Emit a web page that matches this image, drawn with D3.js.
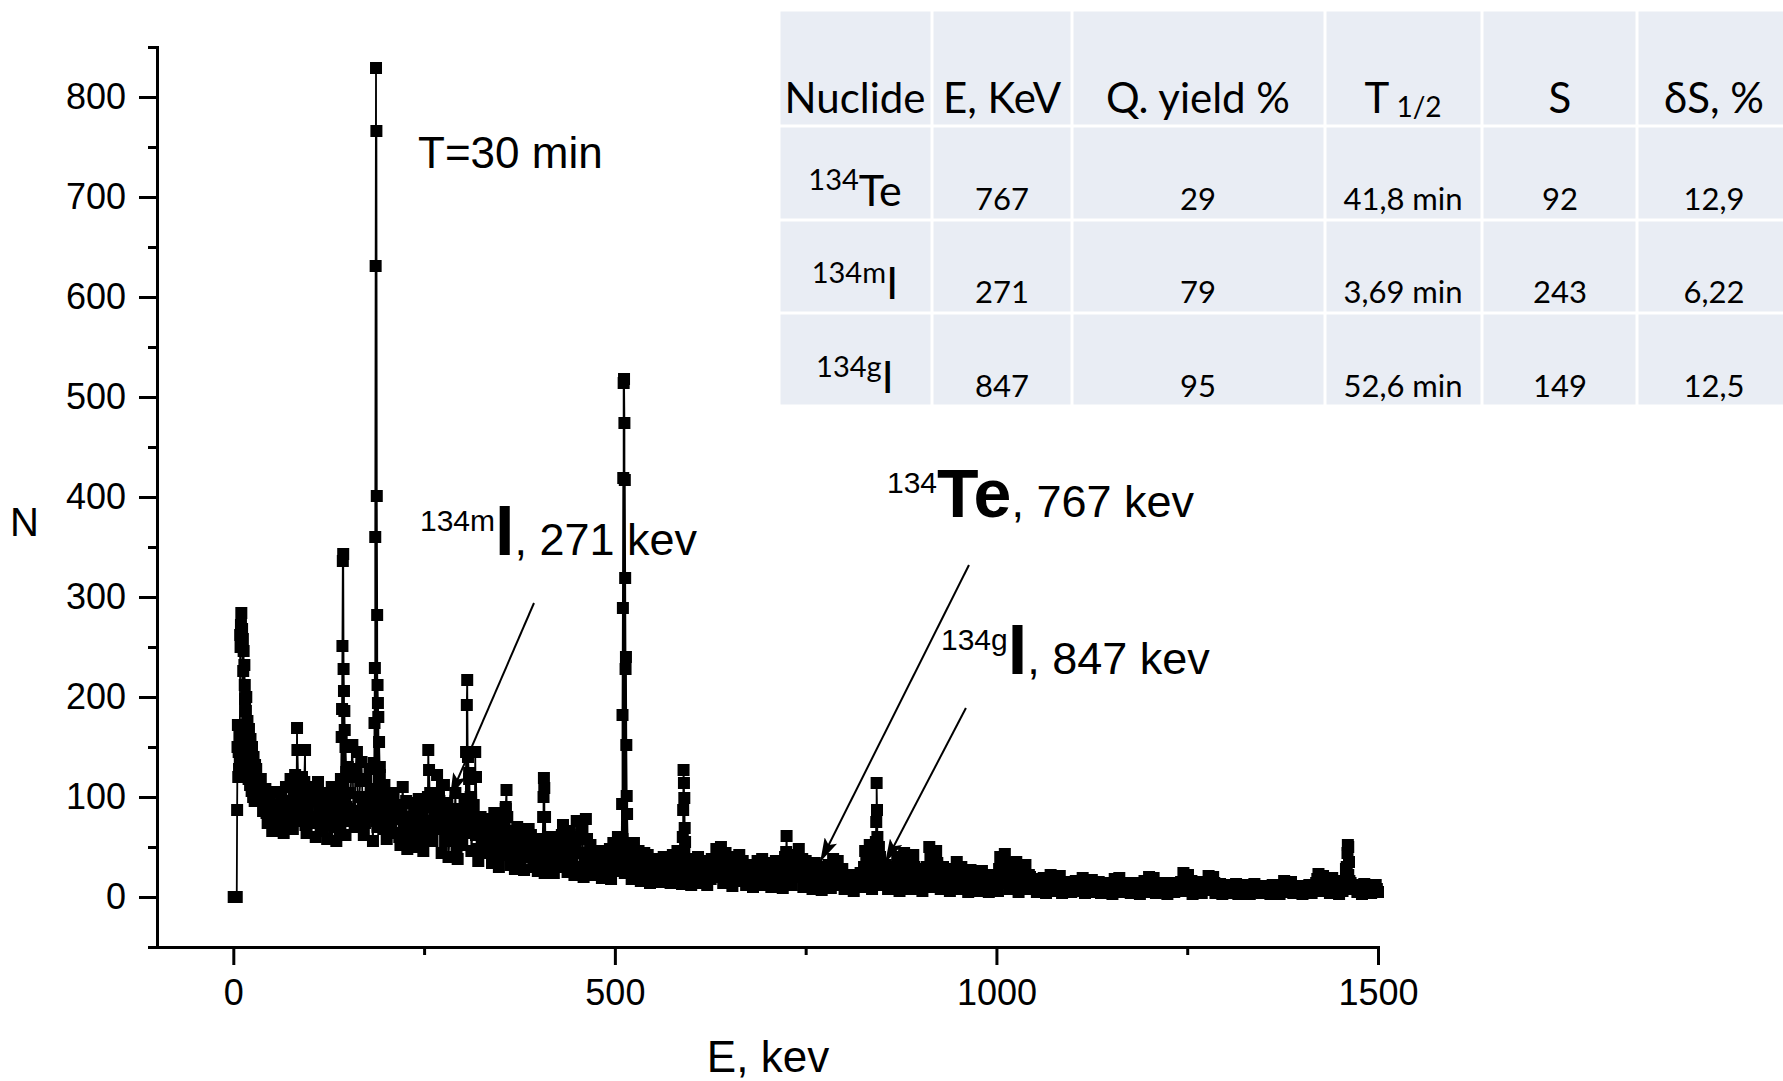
<!DOCTYPE html>
<html>
<head>
<meta charset="utf-8">
<script src="https://cdn.jsdelivr.net/npm/d3@7"></script>
<style>
  html,body{margin:0;padding:0;background:#fff;}
  svg{display:block;}
</style>
</head>
<body>
<div id="chart"></div>
<script>
// ---- axis ticks ----
const yTicks=[0,100,200,300,400,500,600,700,800];
const yMinor=[-50,50,150,250,350,450,550,650,750,850];
const xTicks=[0,500,1000,1500];
const xMinor=[250,750,1250];

// ---- spectrum: low-energy edge, continuum (two interleaved 3 keV samplings), peak channels ----
const lowEnergy=[[0.5,0],[4.5,0],[5,87],[5.5,150],[6,172],[6.5,120],[7,145],[7.5,128],[8,162],[8.5,135],
  [9,262],[9.5,250],[10,272],[10.5,284],[11,264],[11.5,268],[12,150],[12.5,258],[13,226],[13.5,246],
  [14,135],[14.5,232],[15,212],[15.5,198],[16,128],[16.5,186],[17,200],[18,122],[18.5,176],[19,160],
  [20,118],[20.5,168],[21,145],[22,112],[22.5,158],[23,132],[24,106],[24.5,150],[25,124],[26,100],
  [26.5,140],[27,116],[28,96],[28.5,132],[29,110]];
const bgStep=3;
const bgStartA=30;
const backgroundA=[
  128,98,118,86,108,74,100,66,92,105,70,98,64,110,80,118,68,122,92,76,
  120,84,64,110,74,96,60,115,82,66,104,58,92,110,70,56,98,118,76,62,
  130,88,152,70,145,100,135,62,118,80,108,56,96,70,122,84,112,58,98,72,
  104,64,88,52,110,76,48,94,62,82,50,98,70,46,90,66,104,56,82,122,
  96,44,112,68,40,86,58,104,38,76,52,98,64,118,46,92,62,36,80,54,
  78,44,64,34,84,56,30,72,48,88,66,32,58,28,70,44,62,27,52,68,
  62,30,46,26,58,40,24,54,36,60,24,44,56,30,72,48,25,66,38,22,
  76,44,62,20,78,34,52,22,42,30,46,19,38,28,44,18,54,30,60,36,
  58,24,50,40,18,54,32,46,16,38,26,42,14,34,22,38,15,30,40,20,
  36,14,42,24,46,30,13,44,28,38,12,34,22,40,14,30,36,12,26,38,
  20,48,30,50,14,44,26,40,11,36,22,42,16,30,12,26,32,10,24,36,
  18,38,12,28,34,10,22,36,14,30,9,40,24,36,12,42,20,48,30,10,
  36,14,28,8,34,20,30,7,26,16,32,9,38,24,36,12,28,8,20,14,
  22,6,18,10,24,14,46,20,52,8,40,30,50,12,26,32,8,22,30,14,
  40,6,28,44,18,36,8,42,24,12,28,6,22,30,50,10,38,46,20,8,
  30,14,24,6,28,18,35,8,30,22,12,5,27,14,24,6,20,26,10,18,
  5,22,12,18,6,40,16,43,24,8,30,12,35,5,28,18,32,8,20,12,
  18,5,14,8,19,4,12,22,6,16,10,21,4,14,8,15,5,12,16,6,
  12,19,4,14,8,17,5,11,15,4,10,14,6,12,3,18,9,19,5,13,
  8,14,4,11,7,14,3,10,16,5,20,12,19,4,9,14,6,12,3,10,
  14,5,12,8,15,24,6,22,10,3,14,8,15,4,11,7,21,12,20,4,
  9,13,3,10,6,12,4,9,13,3,8,11,5,12,3,7,13,5,10,4,
  11,6,9,3,12,7,10,3,8,16,5,12,15,4,9,6,11,3,10,6,
  12,4,9,14,23,6,21,10,18,4,19,8,15,3,10,16,28,22,14,8,
  12,5,10,3,13,7,11,4,9,12,5];
const bgStartB=31.5;
const backgroundB=[
  111,106,101,96,84,91,78,86,82,74,88,79,92,74,96,84,100,86,104,110,
  96,72,88,100,80,104,76,92,98,74,86,80,102,72,84,94,66,86,100,90,
  104,120,78,128,86,116,92,74,100,128,84,94,76,108,90,68,100,80,88,64,
  78,92,60,84,66,96,58,80,72,88,60,76,84,56,76,96,74,90,68,104,
  72,84,56,94,62,78,70,48,88,60,84,72,90,80,68,74,48,70,60,66,
  60,52,74,46,70,40,62,54,76,42,50,64,40,48,56,36,50,40,58,44,
  48,38,52,34,50,46,32,44,50,30,38,48,40,62,36,58,44,52,30,50,
  60,30,70,40,58,28,36,46,26,36,32,40,24,36,48,38,26,42,48,28,
  36,44,30,28,46,24,40,22,30,44,20,32,28,26,30,20,36,26,32,28,
  28,32,18,36,20,38,24,18,36,20,30,26,18,28,34,22,20,30,18,28,
  34,22,40,24,30,20,34,18,28,16,30,22,36,20,24,18,16,30,20,14,
  26,20,32,16,24,28,18,26,20,22,30,16,30,18,28,24,36,22,38,20,
  22,24,12,20,14,26,16,18,12,24,20,14,30,16,20,28,14,18,12,20,
  12,14,22,16,10,30,36,28,44,16,34,22,40,18,16,20,24,14,10,22,
  20,16,34,26,30,14,24,30,12,20,16,14,18,12,40,26,28,34,14,22,
  20,10,16,18,12,24,14,22,16,10,18,14,20,10,14,18,14,12,16,10,
  14,10,16,12,28,32,24,14,34,18,20,26,14,20,24,12,16,22,14,8,
  10,12,6,14,10,8,16,12,10,12,14,8,10,12,6,10,12,8,10,12,
  8,10,12,6,11,10,8,13,7,9,12,8,10,6,12,13,8,12,9,10,
  11,7,9,8,12,6,10,8,12,14,16,8,12,10,6,9,11,7,8,6,
  9,10,6,12,10,18,14,12,16,8,10,12,6,9,8,13,16,8,14,10,
  6,8,9,5,10,8,6,11,7,6,10,7,9,6,10,9,7,8,6,9,
  8,9,6,7,9,5,8,6,12,10,9,7,10,8,6,9,7,8,6,8,
  8,7,11,18,12,16,14,8,12,10,14,12,9,7,6,12,20,16,10,11,
  8,9,7,10,6,9,8,7,10,8];
const peaks=[
  [83,110],[83.5,169],[84,147],[85,115],[93,115],[94,147],[95,105],
  [141,110],[142,160],[142.5,188],[143,251],[143.5,336],[144,343],[144.5,228],[145,206],[145.5,186],[146,167],[147,150],[148,125],
  [184,134],[185,174],[185.5,229],[186,360],[186.5,631],[187,829],[187.5,766],[188,401],[188.5,282],[189,212],[189.5,194],[190,180],[191,155],[192,130],
  [255,100],[255.5,147],[256.5,127],[257.5,95],
  [305,145],[306,192],[306.5,217],[307.5,140],[309,124],[311,100],[317,145],[318,120],
  [357,90],[358,107],[359,80],
  [406,80],[406.5,100],[407,119],[407.5,109],[408.5,80],
  [509,60],[509.5,93],[510,182],[510.5,289],[511,419],[511.5,514],[512,518],[512.5,474],[513,417],[513.5,319],[514,228],[514.5,240],[515,152],[515.5,101],[516,83],
  [589,60],[589.5,87],[590,127],[590.5,114],[591,99],[591.5,69],[592,55],
  [724.5,45],[725,61],[726,40],
  [842,55],[842.5,75],[843,114],[843.5,87],[844,60],
  [1459,30],[1460,44],[1460.5,52],[1461,50],[1462,35]];

// ---- table ----
const headers=[["Nuclide",""],["E, KeV",""],["Q. yield %",""],["T"," 1/2"],["S",""],["δS, %",""]];
const nuclideMass=["134","134m","134g"];
const nuclideEl=["Te","I","I"];
const energyKeV=["767","271","847"];
const qYield=["29","79","95"];
const halfLife=["41,8 min","3,69 min","52,6 min"];
const sValue=["92","243","149"];
const dS=["12,9","6,22","12,5"];

// ---- callouts ----
const calloutMass=["134m","134","134g"];
const calloutEl=["I","Te","I"];
const calloutText=[", 271 kev",", 767 kev",", 847 kev"];

const W=1783,H=1081;
const sans="'Liberation Sans', Arial, sans-serif";
const svg=d3.select("#chart").append("svg").attr("width",W).attr("height",H).style("background","#fff");
const x=d3.scaleLinear().domain([-100,1500]).range([157,1378]);
const y=d3.scaleLinear().domain([-50,850]).range([947,47]);

// table (top right)
const colX=[779,932,1072,1325,1482,1637,1790], rowY=[10,126,220,313,406];
const colMid=[855,1002,1198,1403,1560,1714];
const tbl=svg.append("g").attr("font-family","Lato, 'Open Sans', sans-serif").attr("fill","#000");
for(let r=0;r<4;r++) for(let c=0;c<6;c++){
  tbl.append("rect").attr("x",colX[c]+1.5).attr("y",rowY[r]+1.5)
    .attr("width",colX[c+1]-colX[c]-3).attr("height",rowY[r+1]-rowY[r]-3).attr("fill","#e9edf4");
}
headers.forEach((h,c)=>{
  const t=tbl.append("text").attr("x",colMid[c]).attr("y",113).attr("text-anchor","middle").attr("font-size",42);
  t.append("tspan").text(h[0]);
  if(h[1]) t.append("tspan").attr("font-size",28).attr("dy",4).text(h[1]);
});
const rowBase=[210,303,397];
const cols=[energyKeV,qYield,halfLife,sValue,dS];
rowBase.forEach((b,r)=>{
  const t=tbl.append("text").attr("x",colMid[0]).attr("y",b-4).attr("text-anchor","middle");
  t.append("tspan").attr("font-size",29).attr("dy",-16).text(nuclideMass[r]);
  t.append("tspan").attr("font-size",r===0?43:44).attr("dy",16).text(nuclideEl[r]);
  cols.forEach((arr,c)=>{
    tbl.append("text").attr("x",colMid[c+1]).attr("y",b).attr("text-anchor","middle")
      .attr("font-size",31).text(arr[r]);
  });
});

// spectrum
const spectrum=lowEnergy.concat(
    backgroundA.map((n,i)=>[bgStartA+i*bgStep,n]),
    backgroundB.map((n,i)=>[bgStartB+i*bgStep,n]),
    peaks).sort((a,b)=>a[0]-b[0]);
const plot=svg.append("g");
plot.append("path").datum(spectrum)
  .attr("d",d3.line().x(d=>x(d[0])).y(d=>y(d[1])))
  .attr("fill","none").attr("stroke","#000").attr("stroke-width",1.8);
const ms=12;
plot.selectAll("rect.pt").data(spectrum).join("rect").attr("class","pt")
  .attr("x",d=>x(d[0])-ms/2).attr("y",d=>y(d[1])-ms/2).attr("width",ms).attr("height",ms).attr("fill","#000");

// axes
function styleAxis(s,size){
  s.selectAll("line").attr("stroke","#000").attr("stroke-width",3);
  s.selectAll("path.domain").attr("stroke","#000").attr("stroke-width",3).attr("stroke-linecap","square");
  s.selectAll("text").attr("font-family",sans).attr("font-size",size).attr("fill","#000");
}
svg.append("g").attr("transform",`translate(${x(-100)},0)`)
  .call(d3.axisLeft(y).tickValues(yMinor).tickSize(9).tickSizeOuter(0).tickFormat(""))
  .call(s=>s.select(".domain").remove()).call(s=>styleAxis(s,36));
svg.append("g").attr("transform",`translate(0,${y(-50)})`)
  .call(d3.axisBottom(x).tickValues(xMinor).tickSize(8).tickSizeOuter(0).tickFormat(""))
  .call(s=>s.select(".domain").remove()).call(s=>styleAxis(s,36));
svg.append("g").attr("transform",`translate(${x(-100)},0)`)
  .call(d3.axisLeft(y).tickValues(yTicks).tickSize(18).tickSizeOuter(0).tickPadding(13).tickFormat(d3.format("d")))
  .call(s=>styleAxis(s,36));
svg.append("g").attr("transform",`translate(0,${y(-50)})`)
  .call(d3.axisBottom(x).tickValues(xTicks).tickSize(18).tickSizeOuter(0).tickPadding(14).tickFormat(d3.format("d")))
  .call(s=>styleAxis(s,36));

svg.append("text").attr("x",10).attr("y",536).attr("font-family",sans).attr("font-size",40).text("N");
svg.append("text").attr("x",768).attr("y",1072).attr("text-anchor","middle").attr("font-family",sans).attr("font-size",44).text("E, kev");
svg.append("text").attr("x",418).attr("y",168).attr("font-family",sans).attr("font-size",44).text("T=30 min");

// callouts with arrows
svg.append("defs").append("marker").attr("id","arr").attr("viewBox","0 0 24 14")
  .attr("refX",24).attr("refY",7).attr("markerWidth",24).attr("markerHeight",14)
  .attr("markerUnits","userSpaceOnUse").attr("orient","auto")
  .append("path").attr("d","M0,0L24,7L0,14L5,7Z").attr("fill","#000");
const arrowFrom=[[394,294],[964,332],[960,189]], arrowTo=[[284,100],[769,35],[854,34]];
arrowFrom.forEach((f,i)=>{
  svg.append("line").attr("x1",x(f[0])).attr("y1",y(f[1])).attr("x2",x(arrowTo[i][0])).attr("y2",y(arrowTo[i][1]))
    .attr("stroke","#000").attr("stroke-width",2).attr("marker-end","url(#arr)");
});
const calloutPos=[[420,555],[887,517],[941,674]], elSize=[70,68,70];
calloutPos.forEach((p,i)=>{
  const t=svg.append("text").attr("x",p[0]).attr("y",p[1]).attr("font-family",sans).attr("fill","#000");
  t.append("tspan").attr("font-size",30).attr("dy",-24).text(calloutMass[i]);
  t.append("tspan").attr("font-size",elSize[i]).attr("font-weight","bold").attr("dy",24).text(calloutEl[i]);
  t.append("tspan").attr("font-size",45).text(calloutText[i]);
});
</script>
</body>
</html>
